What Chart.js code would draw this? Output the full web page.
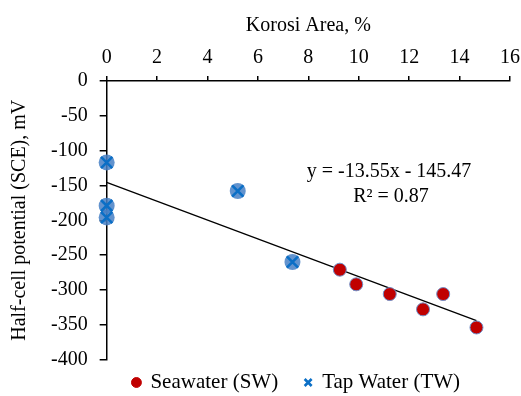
<!DOCTYPE html>
<html>
<head>
<meta charset="utf-8">
<script src="https://cdn.jsdelivr.net/npm/chart.js@4.4.0/dist/chart.umd.min.js"></script>
<style>
  html, body { margin: 0; padding: 0; background: #fff; }
  #wrap { width: 521px; height: 396px; }
</style>
</head>
<body>
<div id="wrap"><canvas id="chart"></canvas></div>
<script>
// Seawater (SW)
const swArea = [9.25, 9.9, 11.23, 12.55, 13.35, 14.67];
const swPotential = [-271, -292, -306, -328, -306, -354];
// Tap Water (TW)
const twArea = [0, 0, 0, 5.2, 7.37];
const twPotential = [-117, -179, -196, -158, -260];
// linear trend line end points
const trendArea = [0, 14.67];
const trendPotential = [-145.47, -344.2];

const xTicks = [0, 2, 4, 6, 8, 10, 12, 14, 16];

const toPoints = (xs, ys) => xs.map((x, i) => ({x: x, y: ys[i]}));

const fontFamily = "Liberation Serif, Tinos, DejaVu Serif, serif";

const equationPlugin = {
    id: 'equation',
    afterUpdate(chart) {
        // nudge the legend to where the original sits
        const lg = chart.legend;
        lg.left += 32; lg.right += 32;
        lg.top += 7; lg.bottom += 7;
    },
    afterDatasetsDraw(chart) {
        const c = chart.ctx;
        c.save();
        c.fillStyle = '#000';
        c.font = '20px ' + fontFamily;
        c.textAlign = 'center';
        c.textBaseline = 'middle';
        c.fillText('y = -13.55x - 145.47', 389, 172);
        c.fillText('R² = 0.87', 391, 197);
        c.restore();
    }
};

const ctx = document.getElementById('chart').getContext('2d');
const chart = new Chart(ctx, {
    type: 'scatter',
    data: {
        datasets: [
            {
                label: 'Seawater (SW)',
                data: toPoints(swArea, swPotential),
                pointStyle: 'circle',
                pointRadius: 6.5,
                backgroundColor: '#c00000',
                borderColor: '#6f8fc8',
                borderWidth: 1,
                clip: false,
                order: 1
            },
            {
                label: 'Tap Water (TW)',
                data: toPoints(twArea, twPotential),
                pointStyle: 'crossRot',
                pointRadius: 8,
                backgroundColor: '#0070c0',
                borderColor: '#0b6fc6',
                borderWidth: 2.6,
                clip: false,
                order: 0
            },
            {
                label: 'TW circle',
                data: toPoints(twArea, twPotential),
                pointStyle: 'circle',
                pointRadius: 8,
                backgroundColor: 'rgba(70, 128, 198, 0.85)',
                borderColor: 'rgba(70, 128, 198, 0.85)',
                borderWidth: 0,
                clip: false,
                order: 2
            },
            {
                label: 'Trend',
                type: 'line',
                data: toPoints(trendArea, trendPotential),
                borderColor: '#000',
                borderWidth: 1.3,
                pointRadius: 0,
                fill: false,
                order: 3
            }
        ]
    },
    options: {
        responsive: true,
        maintainAspectRatio: false,
        animation: false,
        layout: { padding: { left: 8, right: 0, top: 10, bottom: 0 } },
        plugins: {
            legend: {
                position: 'bottom',
                labels: {
                    usePointStyle: true,
                    boxWidth: 7,
                    boxHeight: 7,
                    color: '#000',
                    font: { family: fontFamily, size: 21 },
                    padding: 5.5,
                    generateLabels: chart => {
                        const items = Chart.defaults.plugins.legend.labels.generateLabels(chart);
                        items.forEach(it => {
                            if (it.datasetIndex === 0) {
                                it.text = it.text + '\u2003';
                                it.strokeStyle = it.fillStyle;
                            }
                        });
                        return items;
                    },
                    sort: (a, b) => a.datasetIndex - b.datasetIndex,
                    filter: item => item.datasetIndex < 2
                }
            },
            tooltip: { enabled: false }
        },
        scales: {
            x: {
                type: 'linear',
                position: 'top',
                min: 0,
                max: 16,
                afterBuildTicks: axis => { axis.ticks = xTicks.map(v => ({value: v})); },
                afterFit: axis => { axis.paddingRight = 11; },
                ticks: { color: '#000', font: { family: fontFamily, size: 20 }, padding: 6 },
                grid: { drawOnChartArea: false, color: '#000', tickLength: 5, lineWidth: 1.5 },
                border: { color: '#000', width: 1.5 },
                title: {
                    display: true,
                    text: 'Korosi Area, %',
                    color: '#000',
                    font: { family: fontFamily, size: 20 },
                    padding: { top: 4, bottom: 2 }
                }
            },
            y: {
                type: 'linear',
                min: -400,
                max: 0,
                ticks: { stepSize: 50, color: '#000', font: { family: fontFamily, size: 20 }, padding: 12 },
                grid: { drawOnChartArea: false, color: '#000', tickLength: 7, lineWidth: 1.5 },
                border: { color: '#000', width: 1.5 },
                title: {
                    display: true,
                    text: 'Half-cell potential (SCE), mV',
                    color: '#000',
                    font: { family: fontFamily, size: 20 },
                    padding: { top: 0, bottom: 7 }
                }
            }
        }
    },
    plugins: [equationPlugin]
});
</script>
</body>
</html>
